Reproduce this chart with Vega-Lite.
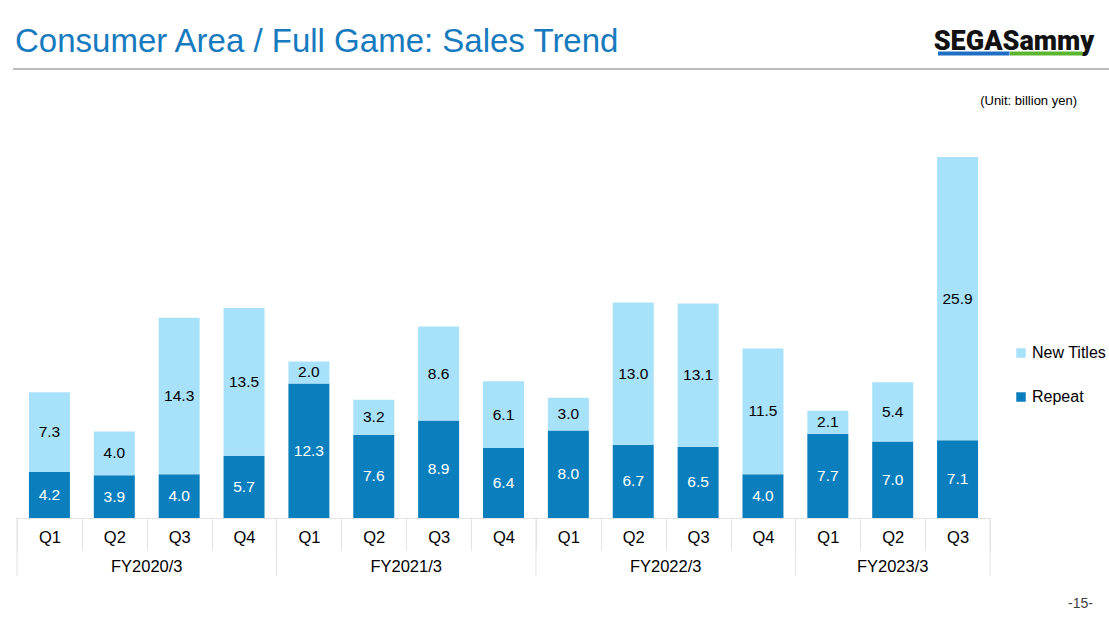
{
  "$schema": "https://vega.github.io/schema/vega-lite/v6.json",
  "autosize": {"type": "none"},
  "width": 973,
  "height": 418,
  "padding": {"left": 17, "right": 119, "top": 100, "bottom": 105},
  "background": "white",
  "config": {"font": "Liberation Sans", "view": {"stroke": null}},
  "datasets": {
    "sales": [
      {"q": "2020-Q1", "s": "Repeat", "v": 4.2}, {"q": "2020-Q1", "s": "New Titles", "v": 7.3},
      {"q": "2020-Q2", "s": "Repeat", "v": 3.9}, {"q": "2020-Q2", "s": "New Titles", "v": 4.0},
      {"q": "2020-Q3", "s": "Repeat", "v": 4.0}, {"q": "2020-Q3", "s": "New Titles", "v": 14.3},
      {"q": "2020-Q4", "s": "Repeat", "v": 5.7}, {"q": "2020-Q4", "s": "New Titles", "v": 13.5},
      {"q": "2021-Q1", "s": "Repeat", "v": 12.3}, {"q": "2021-Q1", "s": "New Titles", "v": 2.0},
      {"q": "2021-Q2", "s": "Repeat", "v": 7.6}, {"q": "2021-Q2", "s": "New Titles", "v": 3.2},
      {"q": "2021-Q3", "s": "Repeat", "v": 8.9}, {"q": "2021-Q3", "s": "New Titles", "v": 8.6},
      {"q": "2021-Q4", "s": "Repeat", "v": 6.4}, {"q": "2021-Q4", "s": "New Titles", "v": 6.1},
      {"q": "2022-Q1", "s": "Repeat", "v": 8.0}, {"q": "2022-Q1", "s": "New Titles", "v": 3.0},
      {"q": "2022-Q2", "s": "Repeat", "v": 6.7}, {"q": "2022-Q2", "s": "New Titles", "v": 13.0},
      {"q": "2022-Q3", "s": "Repeat", "v": 6.5}, {"q": "2022-Q3", "s": "New Titles", "v": 13.1},
      {"q": "2022-Q4", "s": "Repeat", "v": 4.0}, {"q": "2022-Q4", "s": "New Titles", "v": 11.5},
      {"q": "2023-Q1", "s": "Repeat", "v": 7.7}, {"q": "2023-Q1", "s": "New Titles", "v": 2.1},
      {"q": "2023-Q2", "s": "Repeat", "v": 7.0}, {"q": "2023-Q2", "s": "New Titles", "v": 5.4},
      {"q": "2023-Q3", "s": "Repeat", "v": 7.1}, {"q": "2023-Q3", "s": "New Titles", "v": 25.9}
    ],
    "fyStarts": [{"q": "2020-Q1"}, {"q": "2021-Q1"}, {"q": "2022-Q1"}, {"q": "2023-Q1"}],
    "fyLabels4": [
      {"q": "2020-Q3", "fy": "FY2020/3"},
      {"q": "2021-Q3", "fy": "FY2021/3"},
      {"q": "2022-Q3", "fy": "FY2022/3"}
    ],
    "fyLabels3": [{"q": "2023-Q2", "fy": "FY2023/3"}]
  },
  "layer": [
    {
      "data": {"name": "sales"},
      "mark": {"type": "bar", "width": {"band": 0.632}},
      "encoding": {
        "x": {
          "field": "q", "type": "ordinal", "sort": null,
          "scale": {"paddingInner": 0, "paddingOuter": 0},
          "axis": {
            "title": null,
            "labelExpr": "substring(datum.label, 5)",
            "labelAngle": 0,
            "labelFontSize": 16.5,
            "labelColor": "#000000",
            "labelFont": "Liberation Sans",
            "tickBand": "extent",
            "tickSize": 32,
            "tickColor": "#e3e3e3",
            "tickWidth": 1,
            "labelPadding": -21,
            "domain": true,
            "domainColor": "#e3e3e3",
            "grid": false
          }
        },
        "y": {
          "field": "v", "type": "quantitative", "stack": "zero",
          "scale": {"domain": [0, 38.2], "nice": false, "zero": true},
          "axis": null
        },
        "color": {
          "field": "s", "type": "nominal",
          "scale": {"domain": ["New Titles", "Repeat"], "range": ["#a8e1fa", "#0b7fbd"]},
          "legend": {
            "title": null,
            "orient": "none",
            "legendX": 996,
            "legendY": 245,
            "symbolType": "square",
            "symbolSize": 90,
            "symbolStrokeWidth": 0,
            "labelFontSize": 16,
            "labelFont": "Liberation Sans",
            "labelColor": "#000000",
            "labelOffset": 3,
            "rowPadding": 28
          }
        },
        "order": {"field": "s", "sort": "descending"}
      }
    },
    {
      "data": {"name": "sales"},
      "mark": {"type": "text", "fontSize": 15.5, "font": "Liberation Sans", "baseline": "middle"},
      "encoding": {
        "x": {"field": "q", "type": "ordinal", "sort": null},
        "y": {"field": "v", "type": "quantitative", "stack": "zero", "bandPosition": 0.5},
        "text": {"field": "v", "type": "quantitative", "format": ".1f"},
        "detail": {"field": "s"},
        "order": {"field": "s", "sort": "descending"},
        "color": {"condition": {"test": "datum.s === 'Repeat'", "value": "#ffffff"}, "value": "#000000"}
      }
    },
    {
      "data": {"name": "fyStarts"},
      "mark": {"type": "rule", "color": "#e3e3e3", "strokeWidth": 1},
      "encoding": {
        "x": {"field": "q", "type": "ordinal", "sort": null, "bandPosition": 0},
        "y": {"datum": 0},
        "y2": {"datum": -5.3}
      }
    },
    {
      "data": {"values": [{"q": "2023-Q3"}]},
      "mark": {"type": "rule", "color": "#e3e3e3", "strokeWidth": 1},
      "encoding": {
        "x": {"field": "q", "type": "ordinal", "sort": null, "bandPosition": 1},
        "y": {"datum": 0},
        "y2": {"datum": -5.3}
      }
    },
    {
      "data": {"name": "fyLabels4"},
      "mark": {"type": "text", "fontSize": 16.5, "font": "Liberation Sans", "baseline": "middle", "color": "#000000"},
      "encoding": {
        "x": {"field": "q", "type": "ordinal", "sort": null, "bandPosition": 0},
        "y": {"datum": -4.45},
        "text": {"field": "fy"}
      }
    },
    {
      "data": {"name": "fyLabels3"},
      "mark": {"type": "text", "fontSize": 16.5, "font": "Liberation Sans", "baseline": "middle", "color": "#000000"},
      "encoding": {
        "x": {"field": "q", "type": "ordinal", "sort": null, "bandPosition": 0.5},
        "y": {"datum": -4.45},
        "text": {"field": "fy"}
      }
    },
    {
      "data": {"values": [{"q": "2020-Q1", "t": "Consumer Area / Full Game: Sales Trend"}]},
      "mark": {"type": "text", "fontSize": 33, "font": "Liberation Sans", "align": "left", "baseline": "alphabetic", "dx": -2, "color": "#167abe"},
      "encoding": {
        "x": {"field": "q", "type": "ordinal", "sort": null, "bandPosition": 0},
        "y": {"datum": 42.63},
        "text": {"field": "t"}
      }
    },
    {
      "data": {"values": [{"a": "2020-Q1", "b": "2023-Q3"}]},
      "mark": {"type": "rule", "color": "#a6a6a6", "strokeWidth": 1.5, "xOffset": -4, "x2Offset": 152},
      "encoding": {
        "x": {"field": "a", "type": "ordinal", "sort": null, "bandPosition": 0},
        "x2": {"field": "b"},
        "y": {"datum": 41.04}
      }
    },
    {
      "data": {"values": [{"q": "2023-Q3", "t": "(Unit: billion yen)"}]},
      "mark": {"type": "text", "fontSize": 13, "font": "Liberation Sans", "align": "right", "baseline": "middle", "dx": 87, "color": "#000000"},
      "encoding": {
        "x": {"field": "q", "type": "ordinal", "sort": null, "bandPosition": 1},
        "y": {"datum": 38.1},
        "text": {"field": "t"}
      }
    },
    {
      "data": {"values": [{"q": "2023-Q3", "t": "-15-"}]},
      "mark": {"type": "text", "fontSize": 14, "font": "Liberation Sans", "align": "right", "baseline": "middle", "dx": 103, "color": "#404040"},
      "encoding": {
        "x": {"field": "q", "type": "ordinal", "sort": null, "bandPosition": 1},
        "y": {"datum": -7.85},
        "text": {"field": "t"}
      }
    },
    {
      "data": {"values": [{"q": "2023-Q3", "t": "SEGASammy"}]},
      "mark": {"type": "text", "fontSize": 27, "font": "Roboto", "fontWeight": 900, "align": "center", "baseline": "alphabetic", "dx": 24, "color": "#111111"},
      "encoding": {
        "x": {"field": "q", "type": "ordinal", "sort": null, "bandPosition": 1},
        "y": {"datum": 42.78},
        "text": {"field": "t"}
      }
    },
    {
      "data": {"values": [{"q": "2023-Q3", "c": "blue"}]},
      "mark": {"type": "rule", "color": "#1e6fc4", "strokeWidth": 4, "xOffset": -52, "x2Offset": 52},
      "encoding": {
        "x": {"field": "q", "type": "ordinal", "sort": null, "bandPosition": 1},
        "x2": {"field": "q"},
        "y": {"datum": 42.45}
      }
    },
    {
      "data": {"values": [{"q": "2023-Q3", "c": "green"}]},
      "mark": {"type": "rule", "color": "#5cb531", "strokeWidth": 4, "xOffset": 20, "x2Offset": 125},
      "encoding": {
        "x": {"field": "q", "type": "ordinal", "sort": null, "bandPosition": 1},
        "x2": {"field": "q"},
        "y": {"datum": 42.45}
      }
    }
  ]
}
